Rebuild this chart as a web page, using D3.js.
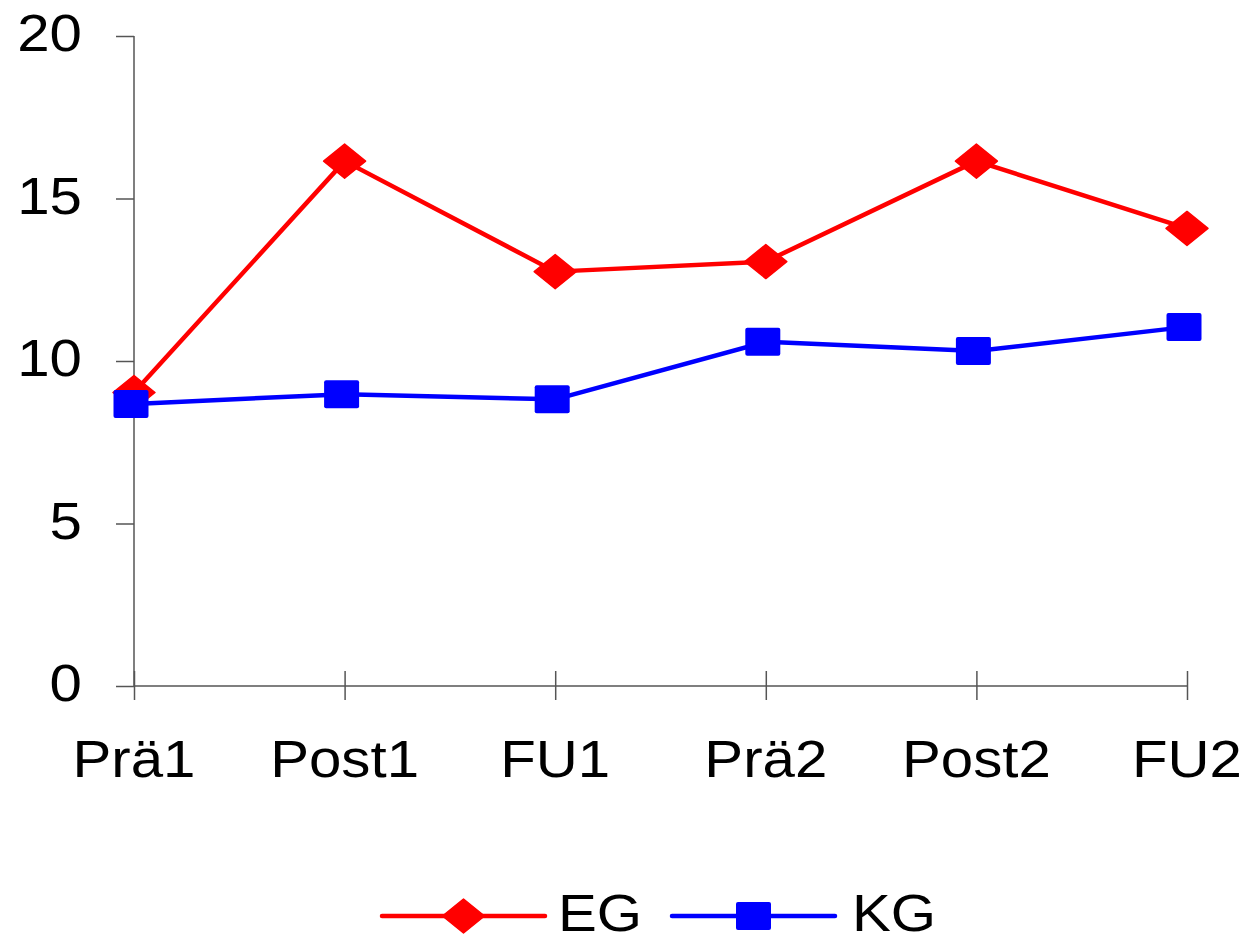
<!DOCTYPE html>
<html>
<head>
<meta charset="utf-8">
<script src="https://cdn.jsdelivr.net/npm/d3@7"></script>
<style>
  html, body { margin: 0; padding: 0; background: #fff; }
  svg { display: block; }
  text { font-family: "Liberation Sans", Arial, sans-serif; fill: #000; }
</style>
</head>
<body>
<svg id="chart" width="1251" height="936"></svg>
<script>
const categories = ["Prä1", "Post1", "FU1", "Prä2", "Post2", "FU2"];
const egValues = [9.03, 16.15, 12.75, 13.06, 16.15, 14.08];
const kgValues = [8.68, 8.98, 8.82, 10.59, 10.31, 11.05];
const yTicks = [0, 5, 10, 15, 20];
const seriesNames = ["EG", "KG"];

const svg = d3.select("#chart");
const x = d3.scalePoint().domain(categories).range([134, 1187]);
const y = d3.scaleLinear().domain([0, 20]).range([686, 36]);
const SX = 1.12;          // horizontal stretch seen in the reference
const FS = 52;
const axisColor = "#555555";

// Y axis
const yAxis = svg.append("g").attr("transform", "translate(134,0)")
  .call(d3.axisLeft(y).tickValues(yTicks).tickSize(18).tickFormat(""));
yAxis.select(".domain").attr("stroke", axisColor).attr("stroke-width", 1.5).attr("d", `M0,${y(20)}V${y(0)}`);
yAxis.selectAll(".tick line").attr("stroke", axisColor).attr("stroke-width", 1.5);

// X axis
const xAxis = svg.append("g").attr("transform", "translate(0,686)")
  .call(d3.axisBottom(x).tickSize(14).tickFormat(""));
xAxis.select(".domain").attr("stroke", axisColor).attr("stroke-width", 1.5).attr("d", `M${x.range()[0]},0H${x.range()[1]}`);
xAxis.selectAll(".tick line").attr("stroke", axisColor).attr("stroke-width", 1.5).attr("y1", -15).attr("y2", 14);

// Y tick labels
svg.append("g").selectAll("text").data(yTicks).join("text")
  .attr("transform", d => `translate(82,${y(d) + 15}) scale(${SX},1)`)
  .attr("text-anchor", "end")
  .attr("font-size", FS)
  .text(d => d);

// X tick labels
svg.append("g").selectAll("text").data(categories).join("text")
  .attr("transform", d => `translate(${x(d)},777) scale(${SX},1)`)
  .attr("text-anchor", "middle")
  .attr("font-size", FS)
  .text(d => d);

const colors = { EG: "#ff0000", KG: "#0000ff" };
const diamondPath = "M0,-17L21,0L0,17L-21,0Z";

function drawMarker(g, name, cx, cy) {
  if (name === "EG") {
    g.append("path").attr("d", diamondPath)
      .attr("transform", `translate(${cx},${cy})`)
      .attr("fill", colors.EG).attr("stroke", colors.EG)
      .attr("stroke-width", 1.5).attr("stroke-linejoin", "round");
  } else {
    g.append("rect").attr("x", cx - 17.5).attr("y", cy - 14)
      .attr("width", 35).attr("height", 28).attr("rx", 2)
      .attr("fill", colors.KG);
  }
}

const line = d3.line().x((d, i) => x(categories[i])).y(d => y(d));
const seriesData = { EG: egValues, KG: kgValues };

seriesNames.forEach(name => {
  const vals = seriesData[name];
  const g = svg.append("g");
  g.append("path").datum(vals).attr("d", line)
    .attr("fill", "none").attr("stroke", colors[name]).attr("stroke-width", 4.5)
    .attr("stroke-linejoin", "round");
  vals.forEach((v, i) => drawMarker(g, name, x(categories[i]) - (name === "KG" ? 3 : 0), y(v)));
});

// Legend
const legendY = 916;
const legendItems = [
  { name: "EG", x1: 382, x2: 545, tx: 558 },
  { name: "KG", x1: 672, x2: 835, tx: 852 }
];
legendItems.forEach(it => {
  const g = svg.append("g");
  g.append("line").attr("x1", it.x1).attr("x2", it.x2).attr("y1", legendY).attr("y2", legendY)
    .attr("stroke", colors[it.name]).attr("stroke-width", 4.5).attr("stroke-linecap", "round");
  drawMarker(g, it.name, (it.x1 + it.x2) / 2, legendY);
  g.append("text").attr("transform", `translate(${it.tx},${legendY + 15}) scale(${SX},1)`)
    .attr("font-size", FS).text(it.name);
});
</script>
</body>
</html>
